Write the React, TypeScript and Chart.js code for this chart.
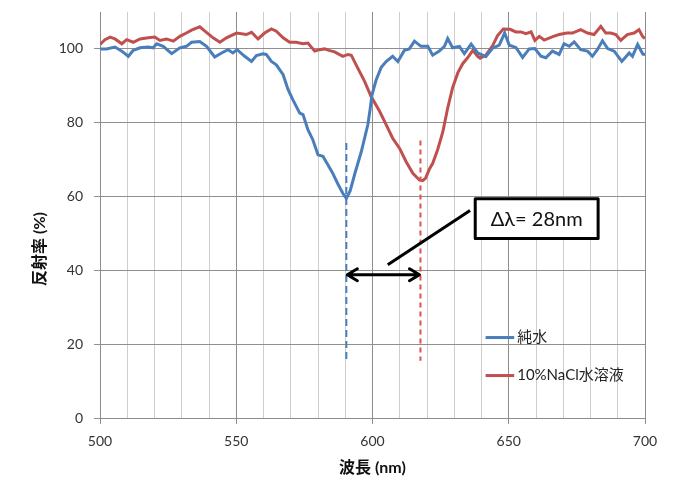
import React, { useEffect, useRef } from "react";
import { Chart, registerables } from "chart.js";

Chart.register(...registerables);

// ---- Data ----
const blueWavelengths = [
  500, 502.4, 505.5, 508, 510.4, 512.2, 514.7, 517.7, 519.5, 520.8, 523.2, 526.3, 529.3, 531.7, 533.6, 536.6,
  539.1, 542.1, 544.6, 547, 548.8, 550.3, 553.1, 555.6, 557.4, 559.8, 561, 562.9, 564.7, 567.2, 569, 570.8,
  573.3, 574.5, 576.3, 578.1, 580, 581.8, 583.3, 585.2, 587.3, 589.1, 590.4, 591.8, 593.4, 595.9, 597.1, 598.3,
  599.1, 599.8, 601.3, 603.2, 605, 607.4, 609.3, 611.7, 613.5, 615.4, 617.8, 620.3, 622.1, 624.5, 626.4, 627.6,
  629.4, 631.9, 633.7, 636.2, 638.6, 641.6, 644.1, 646.5, 648.5, 650.2, 652.6, 655.1, 657.5, 659.6, 661.8, 663.6,
  666, 668.5, 670.3, 672.2, 674, 676.4, 678.9, 680.7, 682.5, 684.4, 686.3, 688.7, 691.5, 694.2, 695.4, 697.3,
  699.2, 700,
];
const blueValues = [
  100, 100, 100.5, 99.4, 98, 99.6, 100.3, 100.5, 100.3, 101.4, 100.7, 98.7, 100.3, 100.7, 101.8, 102,
  100.7, 97.8, 98.9, 99.8, 98.9, 99.8, 98, 96.6, 98.2, 98.7, 98.5, 96.6, 95.7, 93, 89, 86.2,
  82.6, 82.2, 78.1, 75.4, 71.3, 70.9, 69, 66.6, 63.4, 60.9, 59.5, 61.5, 65.9, 72.2, 75.8, 79.5,
  83.5, 87.5, 91.5, 95, 96.6, 98, 96.6, 99.6, 100, 102.1, 100.7, 100.7, 98.3, 99.4, 100.7, 102.8,
  100.3, 100.7, 98.7, 101.3, 98.9, 97.9, 100.2, 101, 104.3, 101, 100.4, 97.7, 100, 100.1, 98, 97.6,
  99.4, 98.5, 101.4, 100.7, 101.9, 99.8, 99.4, 98, 99.8, 102.2, 100.1, 99.4, 96.6, 98.9, 98, 101.2,
  98.6, 98.5,
];

const redWavelengths = [
  500, 501.8, 503.7, 505.5, 508, 509.8, 512.2, 514.7, 517.7, 520.1, 522, 524.4, 526.9, 529.3, 531.7, 533.6,
  536.6, 538.5, 541.5, 544, 546.4, 550.1, 553.7, 555.6, 558, 560.4, 562.9, 564.7, 567.2, 569.6, 572, 574.5,
  576.3, 578.8, 580.6, 582.4, 584, 586.1, 589.1, 591, 592.2, 594.6, 597.1, 599.5, 602.6, 605, 607.4, 609.9,
  612.3, 614.8, 617.2, 618.4, 619.5, 620.9, 622.1, 623.9, 625.8, 627.6, 629.4, 631.3, 633.1, 634.9, 636.8, 638.6,
  639.5, 641.6, 644.1, 645.9, 648, 650.5, 652.6, 654.5, 656.3, 658.2, 659.6, 661.2, 663, 666.4, 668.5, 671.3,
  673.4, 676.4, 678.9, 681.3, 683.8, 685.6, 687.4, 689.3, 691.1, 693.5, 696, 697.8, 699.1, 700,
];
const redValues = [
  101.2, 102.5, 103.2, 102.7, 101.4, 102.5, 101.8, 102.7, 103, 103.2, 102.3, 102.7, 102.1, 103.4, 104.3, 105.1,
  106, 104.8, 103, 101.8, 103, 104.3, 103.9, 104.5, 102.7, 104.3, 105.4, 104.8, 103, 101.8, 101.8, 101.4,
  101.6, 99.4, 99.8, 100, 99.6, 99.2, 98, 98.5, 98.3, 94.8, 91.2, 87.1, 83.1, 79.5, 75.8, 73.1,
  69.5, 66.3, 64.5, 64.3, 65, 67.5, 69, 72.7, 77.5, 84, 89.5, 93.5, 96, 97.6, 99.6, 98,
  97.5, 98.3, 100.9, 103.6, 105.4, 105.3, 104.6, 104.6, 104.1, 104.6, 102.3, 103.4, 102.4, 103.4, 103.9, 104.3,
  104.3, 105.2, 104.3, 103.9, 106.1, 104.3, 104.3, 103.9, 102.3, 103.9, 104.3, 105.2, 103.4, 102.8,
];

const seriesNames = ["純水", "10%NaCl水溶液"];
const xTickLabels = [500, 550, 600, 650, 700];
const yTickLabels = [0, 20, 40, 60, 80, 100];

// annotation values (data units)
const bluePeakWl = 590.4;
const redPeakWl = 617.6;
const dashRange = [15.3, 74.5];
const redDashRange = [15.5, 75.2];
const arrowLevel = 38.8;
const deltaText = "Δλ= 28nm";
const calloutFrom = [605.6, 41.5];
const calloutTo = [635.8, 56.2];
const boxRange = { x0: 637.7, x1: 682.8, y0: 59.4, y1: 48.6 };
const legendLine = { x0: 641.5, x1: 652, yBlue: 21.8, yRed: 11.5 };

const BLUE = "#4A7EBB";
const RED = "#C0504D";
const RED_DASH = "#D9534F";
const FONT = 'Lato, "Noto Sans CJK JP", "Noto Sans", sans-serif';

const annotationPlugin = {
  id: "annot",
  afterDatasetsDraw(chart: any) {
    const ctx = chart.ctx as CanvasRenderingContext2D;
    const xs = chart.scales.x;
    const ys = chart.scales.y;
    const px = (v: number) => xs.getPixelForValue(v);
    const py = (v: number) => ys.getPixelForValue(v);
    ctx.save();
    // dashed vertical lines
    ctx.lineWidth = 2;
    ctx.strokeStyle = BLUE;
    ctx.setLineDash([7, 4]);
    ctx.beginPath();
    ctx.moveTo(px(bluePeakWl), py(dashRange[1]));
    ctx.lineTo(px(bluePeakWl), py(dashRange[0]));
    ctx.stroke();
    ctx.strokeStyle = RED_DASH;
    ctx.setLineDash([5, 4]);
    ctx.beginPath();
    ctx.moveTo(px(redPeakWl), py(redDashRange[1]));
    ctx.lineTo(px(redPeakWl), py(redDashRange[0]));
    ctx.stroke();
    ctx.setLineDash([]);

    // double arrow
    const ax0 = px(bluePeakWl) + 1;
    const ax1 = px(redPeakWl) - 1;
    const ay = py(arrowLevel);
    ctx.strokeStyle = "#000";
    ctx.lineWidth = 3;
    ctx.lineCap = "round";
    ctx.lineJoin = "round";
    ctx.beginPath();
    ctx.moveTo(ax0, ay);
    ctx.lineTo(ax1, ay);
    ctx.moveTo(ax0 + 10, ay - 6);
    ctx.lineTo(ax0, ay);
    ctx.lineTo(ax0 + 10, ay + 6);
    ctx.moveTo(ax1 - 10, ay - 6);
    ctx.lineTo(ax1, ay);
    ctx.lineTo(ax1 - 10, ay + 6);
    ctx.stroke();

    // callout line
    ctx.lineCap = "butt";
    ctx.beginPath();
    ctx.moveTo(px(calloutFrom[0]), py(calloutFrom[1]));
    ctx.lineTo(px(calloutTo[0]), py(calloutTo[1]));
    ctx.stroke();

    // box
    const bx0 = px(boxRange.x0), bx1 = px(boxRange.x1);
    const by0 = py(boxRange.y0), by1 = py(boxRange.y1);
    ctx.fillStyle = "#fff";
    ctx.fillRect(bx0, by0, bx1 - bx0, by1 - by0);
    ctx.lineWidth = 3;
    ctx.strokeRect(bx0, by0, bx1 - bx0, by1 - by0);
    ctx.fillStyle = "#111";
    ctx.font = `20px ${FONT}`;
    ctx.textAlign = "center";
    ctx.textBaseline = "middle";
    ctx.fillText(deltaText, (bx0 + bx1) / 2, (by0 + by1) / 2 + 1);

    // legend
    const lx0 = px(legendLine.x0), lx1 = px(legendLine.x1);
    ctx.lineWidth = 3;
    ctx.strokeStyle = BLUE;
    ctx.beginPath();
    ctx.moveTo(lx0, py(legendLine.yBlue));
    ctx.lineTo(lx1, py(legendLine.yBlue));
    ctx.stroke();
    ctx.strokeStyle = RED;
    ctx.beginPath();
    ctx.moveTo(lx0, py(legendLine.yRed));
    ctx.lineTo(lx1, py(legendLine.yRed));
    ctx.stroke();
    ctx.fillStyle = "#222";
    ctx.font = `15px ${FONT}`;
    ctx.textAlign = "left";
    ctx.fillText(seriesNames[0], lx1 + 3, py(legendLine.yBlue));
    ctx.fillText(seriesNames[1], lx1 + 3, py(legendLine.yRed));

    // axis titles
    ctx.fillStyle = "#111";
    ctx.font = `bold 16px ${FONT}`;
    ctx.textAlign = "center";
    ctx.fillText("波長 (nm)", (chart.chartArea.left + chart.chartArea.right) / 2, 468);
    ctx.save();
    ctx.translate(40, 249);
    ctx.rotate(-Math.PI / 2);
    ctx.fillText("反射率 (%)", 0, 0);
    ctx.restore();
    ctx.restore();
  },
};

export default function App() {
  const ref = useRef<HTMLCanvasElement | null>(null);
  useEffect(() => {
    if (!ref.current) return;
    const chart = new Chart(ref.current, {
      type: "line",
      data: {
        datasets: [
          {
            label: seriesNames[0],
            data: blueWavelengths.map((x, i) => ({ x, y: blueValues[i] })),
            borderColor: BLUE,
            borderWidth: 3,
            pointRadius: 0,
            tension: 0,
          },
          {
            label: seriesNames[1],
            data: redWavelengths.map((x, i) => ({ x, y: redValues[i] })),
            borderColor: RED,
            borderWidth: 3,
            pointRadius: 0,
            tension: 0,
          },
        ],
      },
      options: {
        animation: false,
        responsive: false,
        layout: { padding: { left: 0, top: 12, right: 42, bottom: 0 } },
        plugins: { legend: { display: false }, tooltip: { enabled: false } },
        scales: {
          x: {
            type: "linear",
            min: 500,
            max: 700,
            afterFit: (s: any) => {
              s.height = 64;
              s.paddingLeft = 0;
              s.paddingRight = 0;
            },
            ticks: {
              stepSize: 10,
              autoSkip: false,
              maxRotation: 0,
              color: "#333",
              padding: 9,
              font: { family: FONT, size: 14 },
              callback: (v: any) => (xTickLabels.includes(Number(v)) ? String(v) : ""),
            },
            grid: {
              color: (c: any) => (c.tick && c.tick.value % 50 === 0 ? "#8c8c8c" : "#cdcdcd"),
              tickColor: (c: any) => (c.tick && c.tick.value % 50 === 0 ? "#8c8c8c" : "rgba(0,0,0,0)"),
              tickLength: 6,
              lineWidth: 1,
            },
            border: { color: "#8c8c8c", width: 1 },
          },
          y: {
            min: 0,
            max: 110,
            afterFit: (s: any) => {
              s.width = 100;
              s.paddingTop = 0;
              s.paddingBottom = 0;
            },
            afterBuildTicks: (s: any) => {
              s.ticks = s.ticks.filter((t: any) => yTickLabels.includes(t.value));
            },
            ticks: {
              stepSize: 20,
              color: "#333",
              padding: 11,
              font: { family: FONT, size: 14 },
            },
            grid: { color: "#8f8f8f", tickColor: "#8f8f8f", tickLength: 6, lineWidth: 1 },
            border: { color: "#8c8c8c", width: 1 },
          },
        },
      },
      plugins: [annotationPlugin],
    } as any);
    return () => chart.destroy();
  }, []);
  return (
    <div style={{ position: "fixed", left: 0, top: 0, width: 687, height: 482, background: "#fff" }}>
      <canvas ref={ref} width={687} height={482} style={{ width: 687, height: 482 }} />
    </div>
  );
}
